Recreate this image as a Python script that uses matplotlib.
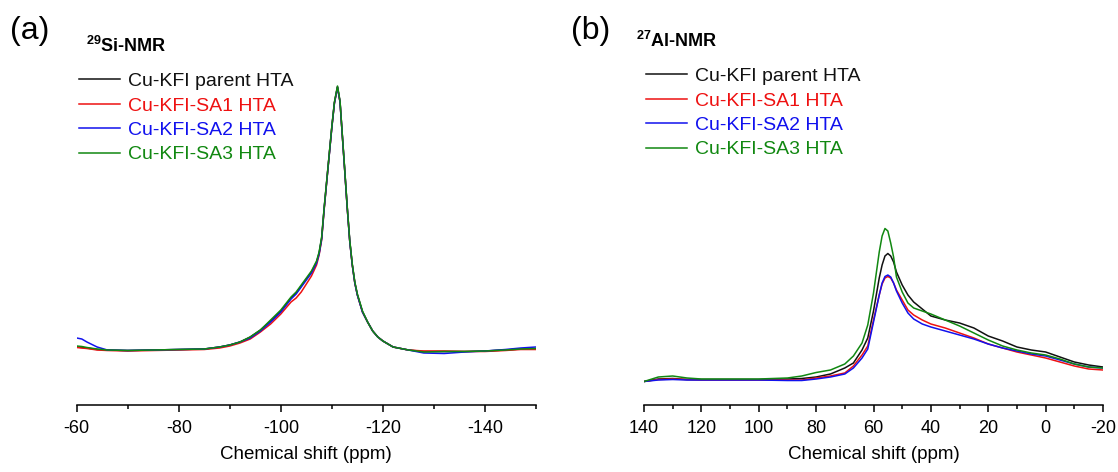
import matplotlib
matplotlib.use('Agg')
import matplotlib.pyplot as plt

plt.rcParams['font.family'] = ['Liberation Sans', 'DejaVu Sans']
plt.rcParams['mathtext.fontset'] = 'custom'
plt.rcParams['mathtext.rm'] = 'Liberation Sans'
plt.rcParams['mathtext.bf'] = 'Liberation Sans:bold'
plt.rcParams['axes.unicode_minus'] = False

labels = ['Cu-KFI parent HTA', 'Cu-KFI-SA1 HTA', 'Cu-KFI-SA2 HTA', 'Cu-KFI-SA3 HTA']
colors = ['#111111', '#ee1111', '#1111ee', '#118811']

# 29Si MAS NMR (ppm, intensity a.u.)
si_ppm = [-60, -61, -62, -64, -66, -70, -75, -80, -85, -88, -90, -92, -94, -96, -98,
          -100, -102, -103, -104, -105, -106, -107, -107.5, -108, -108.5, -109, -109.5,
          -110, -110.5, -111.1, -111.6, -112, -112.5, -113, -113.5, -114, -114.5, -115,
          -116, -117, -118, -119, -120, -122, -125, -128, -132, -136, -140, -144, -147, -150]
si_parent = [5, 4.5, 4, 2.5, 2, 1.5, 2, 2.5, 3, 5, 7, 10, 15, 22, 31,
             41, 54, 59, 66, 73, 80, 90, 99, 114, 144, 171, 198,
             225, 249, 265, 250, 220, 183, 145, 111, 87, 69, 57,
             40, 30, 21, 15, 11, 5, 2, 0.5, 0.5, 0.5, 1, 2, 3, 3]
si_sa1 = [4.5, 4, 3.5, 2, 1.5, 1, 1.5, 2, 2.5, 4, 6, 9, 13, 20, 28,
          38, 50, 54, 60, 68, 76, 87, 97, 112, 143, 171, 198,
          225, 249, 265, 250, 220, 183, 145, 111, 87, 69, 57,
          40, 30, 21, 15, 11, 5, 2, 1, 1, 0.5, 0.5, 1.5, 2.5, 2.5]
si_sa2 = [14, 13, 10, 5, 2, 1.5, 2, 2.5, 3, 5, 7, 10, 14, 21, 30,
          40, 53, 58, 65, 72, 79, 89, 98, 113, 144, 171, 198,
          225, 249, 265, 250, 220, 183, 145, 111, 87, 69, 57,
          40, 30, 21, 15, 11, 5, 2, -1, -1.5, 0, 1, 2.5, 4, 5]
si_sa3 = [6, 5.5, 4.5, 3, 2, 1.5, 2, 2.5, 3, 5, 7, 10, 15, 22, 32,
          42, 55, 60, 67, 74, 81, 91, 100, 115, 145, 172, 199,
          226, 250, 266, 251, 221, 184, 146, 112, 88, 70, 58,
          41, 30, 21, 15, 11, 5, 2, 0, 0.5, 0.5, 1, 2, 3, 3.5]

# 27Al MAS NMR (ppm, intensity a.u.)
al_ppm = [140, 135, 130, 125, 120, 110, 100, 90, 85, 80, 75, 70, 67, 64, 62, 60, 58,
          57, 56, 55, 54, 53, 52, 50, 48, 46, 43, 40, 35, 30, 25, 20, 15, 10, 5, 0,
          -5, -10, -15, -20]
al_parent = [0.5, 3, 3.5, 2.5, 2.5, 2.5, 2.5, 3, 3.5, 5, 8, 14, 19, 32, 44, 71, 104,
             117, 126, 128.5, 126, 120, 110, 97, 87, 80, 73, 66, 62, 59, 54, 46, 41, 35, 32, 30,
             25, 20, 17, 15]
al_sa1 = [0.5, 2.5, 3, 2.5, 2, 2, 2, 2, 2, 4, 6, 9, 16, 27, 36, 62, 87,
          98, 104, 105.5, 104, 99, 92, 82, 72, 67, 62, 58, 54, 49, 44, 38, 34, 30, 27, 24,
          20, 16, 13, 12]
al_sa2 = [0.5, 2, 2.5, 2, 2, 2, 2, 1.5, 1.5, 3, 5, 8, 14, 24, 33, 60, 87,
          99, 105.5, 107, 105, 99, 91, 79, 69, 63, 58, 55, 51, 47, 43, 38, 34, 31, 28, 26,
          22, 18, 15, 14]
al_sa3 = [0.5, 5, 6, 4, 3, 3, 3, 4, 6, 9.5, 12, 18, 26, 39, 57, 89, 130,
          146, 153.5, 151, 139, 125, 105, 90, 79, 74, 71, 68, 62, 56, 49, 42, 36, 32, 29, 27,
          23, 18, 15, 14]

W, H = 1118, 472
fig = plt.figure(figsize=(W / 100, H / 100), dpi=100)


def px_axes(l, r, t, b):
    return fig.add_axes([l / W, 1 - b / H, (r - l) / W, (b - t) / H])


def style(ax, xlim, ylim, major, minor):
    ax.set_xlim(*xlim)
    ax.set_ylim(*ylim)
    for s in ['top', 'right', 'left']:
        ax.spines[s].set_visible(False)
    ax.spines['bottom'].set_linewidth(1.1)
    ax.set_yticks([])
    ax.set_xticks(major)
    ax.set_xticks(minor, minor=True)
    ax.tick_params(axis='x', which='major', length=5, width=1.1, labelsize=13, pad=6)
    ax.tick_params(axis='x', which='minor', length=3, width=1.1)
    ax.set_xlabel('Chemical shift (ppm)', fontsize=13.5, labelpad=6)


leg_kw = dict(loc='upper left', bbox_transform=fig.transFigure, frameon=False, fontsize=14,
              handlelength=2.1, handletextpad=0.4, labelspacing=0.35, borderpad=0,
              borderaxespad=0, labelcolor='linecolor')

# (a) 29Si
ax1 = px_axes(76.7, 536, 20, 405)
for y, c, lab in zip([si_parent, si_sa1, si_sa2, si_sa3], colors, labels):
    ax1.plot(si_ppm, y, color=c, lw=1.1, label=lab)
style(ax1, (-60, -150), (-53, 332), [-60, -80, -100, -120, -140], [-70, -90, -110, -130, -150])
ax1.legend(bbox_to_anchor=(79 / W, 1 - 72.5 / H), **leg_kw)

# (b) 27Al
ax2 = px_axes(644, 1103, 20, 405)
for y, c, lab in zip([al_parent, al_sa1, al_sa2, al_sa3], colors, labels):
    ax2.plot(al_ppm, y, color=c, lw=1.1, label=lab)
style(ax2, (140, -20), (-23, 362), [140, 120, 100, 80, 60, 40, 20, 0, -20],
      [130, 110, 90, 70, 50, 30, 10, -10])
ax2.legend(bbox_to_anchor=(646 / W, 1 - 67.5 / H), **leg_kw)

fig.text(10 / W, 1 - 31 / H, '(a)', fontsize=23, va='center', ha='left')
fig.text(571 / W, 1 - 31 / H, '(b)', fontsize=23, va='center', ha='left')
fig.text(86 / W, 1 - 46 / H, r'$\mathbf{^{29}}$Si-NMR', fontsize=13, fontweight='bold', va='center', ha='left')
fig.text(636 / W, 1 - 41 / H, r'$\mathbf{^{27}}$Al-NMR', fontsize=13, fontweight='bold', va='center', ha='left')

fig.savefig('out.png', dpi=100)
